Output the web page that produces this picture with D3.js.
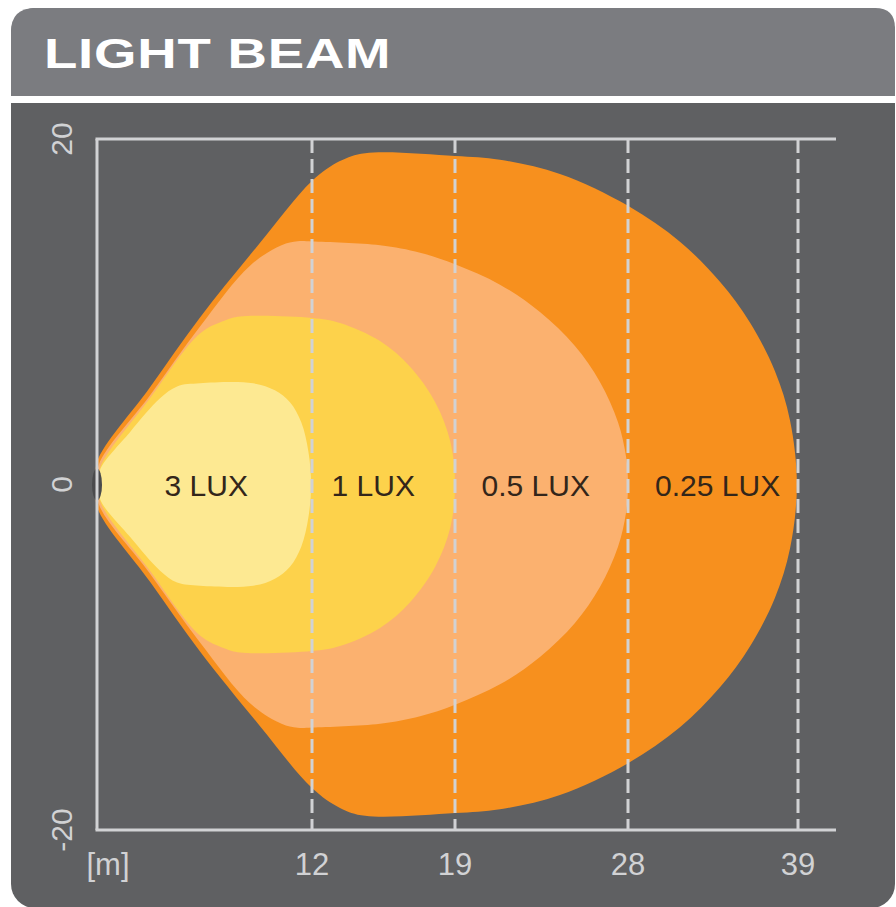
<!DOCTYPE html>
<head>
<meta charset="utf-8">
<title>Light Beam</title>
<script src="https://d3js.org/d3.v7.min.js"></script>
<style>
body { margin: 0; background: #fff; }
</style>
</head>
<body>
<div id="chart"></div>
<script>
// axis ticks
var xTicks = [12, 19, 28, 39];
var yTicks = [20, 0, -20];

// beam zones, outer to inner
var luxNames = ["0.25 LUX", "0.5 LUX", "1 LUX", "3 LUX"];
var luxLabelAt = [33.8, 23.2, 15, 6.1];

// upper half of each beam outline: [distance (m), half width]
var beam025 = [[0, 1.3], [2.96, 5.63], [5.75, 9.67], [9.1, 13.99], [12, 17.57], [13.37, 18.72], [14.6, 19.18],
  [19, 19.02], [21.34, 18.8], [24.46, 17.97], [28, 16.13], [31.36, 14.05], [33.95, 11.74], [35.89, 9.38],
  [37.51, 6.55], [38.48, 3.72], [38.93, 0]];
var beam05 = [[0.1, 1.13], [2.96, 5.16], [5.75, 9.15], [8.54, 12.67], [10.3, 13.85], [11.2, 14.08],
  [12, 14.07], [15.33, 13.85], [17.29, 13.42], [19, 12.75], [21.34, 11.57], [23.42, 9.98], [25.24, 8.02],
  [26.54, 5.94], [27.48, 3.61], [27.9, 1.6], [28, 0]];
var beam1 = [[0.17, 0.95], [2.96, 4.99], [5.75, 8.74], [7.14, 9.49], [7.98, 9.72], [12, 9.64],
  [13.37, 9.35], [15.33, 8.3], [16.8, 6.81], [18.03, 4.76], [18.78, 2.45], [19, 0]];
var beam3 = [[0.17, 0.84], [1.84, 3.03], [3.52, 4.99], [4.47, 5.68], [5.75, 5.86], [8.71, 5.86],
  [9.93, 5.45], [10.77, 4.76], [11.4, 3.6], [11.8, 1.9], [11.95, 0]];

var beams = [beam025, beam05, beam1, beam3];
var beamColors = ["#f7901e", "#fbb16f", "#fdd24b", "#fde992"];

var W = 896, H = 907;
var svg = d3.select("#chart").append("svg")
  .attr("width", W)
  .attr("height", H);

// panel
svg.append("rect")
  .attr("x", 11).attr("y", 8)
  .attr("width", 884).attr("height", 900)
  .attr("rx", 24)
  .attr("fill", "#5f6062");

// header
svg.append("path")
  .attr("d", "M11,97 L11,32 Q11,8 35,8 L875,8 Q895,8 895,28 L895,97 Z")
  .attr("fill", "#7b7c80");
svg.append("rect")
  .attr("x", 11).attr("y", 96)
  .attr("width", 884).attr("height", 7)
  .attr("fill", "#ffffff");

svg.append("text")
  .attr("transform", "translate(44,68) scale(1.3,1)")
  .style("font-family", "Liberation Sans, Arial, sans-serif")
  .style("font-weight", "bold")
  .style("font-size", "42px")
  .style("letter-spacing", "0.6px")
  .attr("fill", "#ffffff")
  .text("LIGHT BEAM");

// scales (distance axis is stretched per segment like the original)
var x = d3.scaleLinear()
  .domain([0, 12, 19, 28, 39])
  .range([97, 312, 455, 628, 798]);
var y = d3.scaleLinear()
  .domain([20, -20])
  .range([139, 830]);

var frameRight = 836;

// beams
var line = d3.line()
  .x(function(d) { return x(d[0]); })
  .y(function(d) { return y(d[1]); })
  .curve(d3.curveCatmullRomClosed.alpha(0.5));

beams.forEach(function(b, i) {
  var top = b.slice();
  var bottom = b.slice(0, b.length - 1).reverse().map(function(d) { return [d[0], -d[1]]; });
  var pts = [[b[0][0], 0]].concat(top, bottom);
  svg.append("path")
    .attr("d", line(pts))
    .attr("fill", beamColors[i]);
});

// lamp mark at origin
svg.append("ellipse")
  .attr("cx", x(0))
  .attr("cy", y(0))
  .attr("rx", 5)
  .attr("ry", 16)
  .attr("fill", "#4a4a4c");

// frame
var axisColor = "#d1d2d4";
svg.append("line")
  .attr("x1", x(0)).attr("x2", x(0))
  .attr("y1", y(20)).attr("y2", y(-20))
  .attr("stroke", axisColor).attr("stroke-width", 3);
svg.append("line")
  .attr("x1", x(0) - 1.5).attr("x2", frameRight)
  .attr("y1", y(20)).attr("y2", y(20))
  .attr("stroke", axisColor).attr("stroke-width", 3);
svg.append("line")
  .attr("x1", x(0) - 1.5).attr("x2", frameRight)
  .attr("y1", y(-20)).attr("y2", y(-20))
  .attr("stroke", axisColor).attr("stroke-width", 3);

// dashed distance lines
svg.selectAll(".dash")
  .data(xTicks)
  .enter().append("line")
  .attr("class", "dash")
  .attr("x1", function(d) { return x(d); })
  .attr("x2", function(d) { return x(d); })
  .attr("y1", y(20))
  .attr("y2", y(-20))
  .attr("stroke", axisColor)
  .attr("stroke-width", 3)
  .attr("stroke-dasharray", "14,6");

// x tick labels
svg.selectAll(".xlab")
  .data(xTicks)
  .enter().append("text")
  .attr("class", "xlab")
  .attr("x", function(d) { return x(d); })
  .attr("y", 875)
  .attr("text-anchor", "middle")
  .style("font-family", "Liberation Sans Narrow, Liberation Sans, sans-serif")
  .style("font-size", "31px")
  .attr("fill", axisColor)
  .text(function(d) { return d; });

svg.append("text")
  .attr("x", 108)
  .attr("y", 875)
  .attr("text-anchor", "middle")
  .style("font-family", "Liberation Sans Narrow, Liberation Sans, sans-serif")
  .style("font-size", "31px")
  .attr("fill", axisColor)
  .text("[m]");

// y tick labels (rotated)
svg.selectAll(".ylab")
  .data(yTicks)
  .enter().append("text")
  .attr("class", "ylab")
  .attr("transform", function(d) { return "translate(72," + y(d) + ") rotate(-90)"; })
  .attr("text-anchor", "middle")
  .style("font-family", "Liberation Sans, sans-serif")
  .style("font-size", "30px")
  .attr("fill", axisColor)
  .text(function(d) { return d; });

// zone labels
svg.selectAll(".lux")
  .data(luxNames)
  .enter().append("text")
  .attr("class", "lux")
  .attr("x", function(d, i) { return x(luxLabelAt[i]); })
  .attr("y", y(0) + 11)
  .attr("text-anchor", "middle")
  .style("font-family", "Liberation Sans, sans-serif")
  .style("font-size", "30px")
  .attr("fill", "#33261a")
  .text(function(d) { return d; });
</script>
</body>
